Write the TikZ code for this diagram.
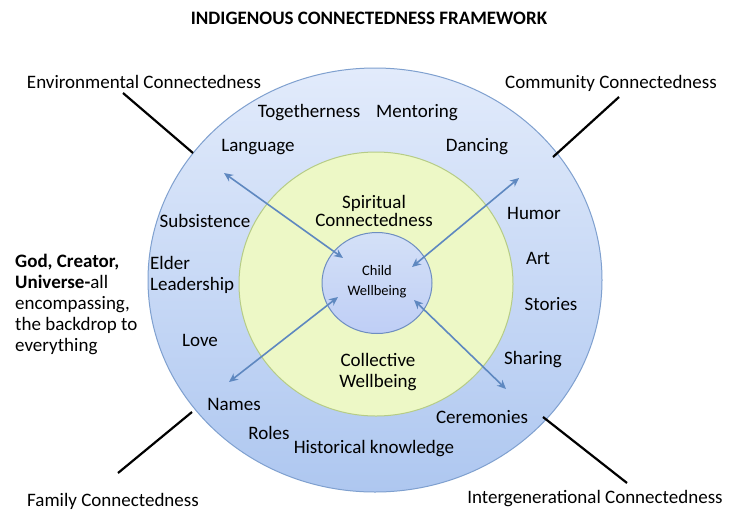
\documentclass[tikz,border=0pt]{standalone}
\usepackage{fontspec}
\setmainfont{Carlito}
\usetikzlibrary{arrows.meta,shapes.geometric}
\definecolor{ringblue}{HTML}{7FA0CF}
\definecolor{ringtop}{HTML}{E2EBFB}
\definecolor{ringbot}{HTML}{AEC7F0}
\definecolor{greenfill}{HTML}{EDF8C6}
\definecolor{greenedge}{HTML}{B6CC86}
\definecolor{corefill}{HTML}{C9D9F5}
\definecolor{coreedge}{HTML}{6E8EC0}
\definecolor{arrowblue}{HTML}{5E88C0}
\tikzset{
  lbl/.style={font=\fontsize{19}{21}\selectfont, inner sep=1pt, align=center},
  corner/.style={font=\fontsize{19}{21}\selectfont, inner sep=1pt},
  small/.style={font=\fontsize{14.5}{20}\selectfont, inner sep=1pt, align=center},
  tick/.style={line width=2.2pt, black},
  dbl/.style={line width=1.6pt, arrowblue, {Stealth[length=9pt,width=8pt]}-{Stealth[length=9pt,width=8pt]}}
}
\begin{document}
\begin{tikzpicture}[x=1pt,y=-1pt]
\useasboundingbox (0,0) rectangle (730,512);
\fill[white] (0,0) rectangle (730,512);

% title
\node[font=\fontsize{19}{21}\selectfont\bfseries] (title) at (369,18) {INDIGENOUS CONNECTEDNESS FRAMEWORK};

% rings
\node[ellipse, minimum width=454pt, minimum height=424pt, draw=ringblue, line width=1pt,
      top color=ringtop, bottom color=ringbot] (outer) at (375,280) {};
\node[ellipse, minimum width=274pt, minimum height=264pt, draw=greenedge, line width=1pt,
      fill=greenfill] (green) at (376,284) {};
\node[ellipse, minimum width=110pt, minimum height=101pt, draw=coreedge, line width=1pt,
      top color=corefill!80!white, bottom color=corefill!95!blue] (core) at (377,283) {};

% corner connectors
\coordinate (ulIn) at (193,153);  \coordinate (ulOut) at (123,93);
\coordinate (urIn) at (553,157);  \coordinate (urOut) at (619,97);
\coordinate (llIn) at (192,412);  \coordinate (llOut) at (118,473);
\coordinate (lrIn) at (543,417);  \coordinate (lrOut) at (627,483);
\draw[tick] (ulIn) -- (ulOut);
\draw[tick] (urIn) -- (urOut);
\draw[tick] (llIn) -- (llOut);
\draw[tick] (lrIn) -- (lrOut);

% corner labels
\node[corner] (env) at (144,82) {Environmental Connectedness};
\node[corner] (com) at (611,83) {Community Connectedness};
\node[corner] (fam) at (113,501) {Family Connectedness};
\node[corner] (inter) at (595,499) {Intergenerational Connectedness};

% arrows between the core and the outer ring
\coordinate (aUL) at (224,173);  \coordinate (cUL) at (343,258);
\coordinate (aUR) at (519,178);  \coordinate (cUR) at (412,267);
\coordinate (aLL) at (229,382);  \coordinate (cLL) at (338,297);
\coordinate (aLR) at (506,389);  \coordinate (cLR) at (414,300);
\draw[dbl] (aUL) -- (cUL);
\draw[dbl] (aUR) -- (cUR);
\draw[dbl] (aLL) -- (cLL);
\draw[dbl] (aLR) -- (cLR);

% outer ring words
\node[lbl] (together) at (309,113) {Togetherness};
\node[lbl] (mentor) at (417,113) {Mentoring};
\node[lbl] (lang) at (258,147) {Language};
\node[lbl] (dance) at (477,147) {Dancing};
\node[lbl] (subs) at (205,221) {Subsistence};
\node[lbl] (humor) at (534,213) {Humor};
\node[lbl, align=left, anchor=west] (elder) at (149,275) {Elder\\Leadership};
\node[lbl] (art) at (538,258) {Art};
\node[lbl] (stories) at (551,304) {Stories};
\node[lbl] (love) at (200,340) {Love};
\node[lbl] (sharing) at (533,360) {Sharing};
\node[lbl] (names) at (234,404) {Names};
\node[lbl] (cerem) at (482,417) {Ceremonies};
\node[lbl] (roles) at (269,433) {Roles};
\node[lbl] (hist) at (374,449) {Historical knowledge};

% middle ring
\node[lbl, font=\fontsize{19}{18.5}\selectfont] (spirit) at (374,211) {Spiritual\\Connectedness};
\node[lbl] (collect) at (378,372) {Collective\\Wellbeing};

% core
\node[small] (child) at (377,282) {Child\\Wellbeing};

% left note
\node[font=\fontsize{19}{21}\selectfont, align=left, anchor=north west, inner sep=0pt] (god) at (15,254)
  {\textbf{God, Creator,}\\\textbf{Universe-}all\\encompassing,\\the backdrop to\\everything};
\end{tikzpicture}
\end{document}
